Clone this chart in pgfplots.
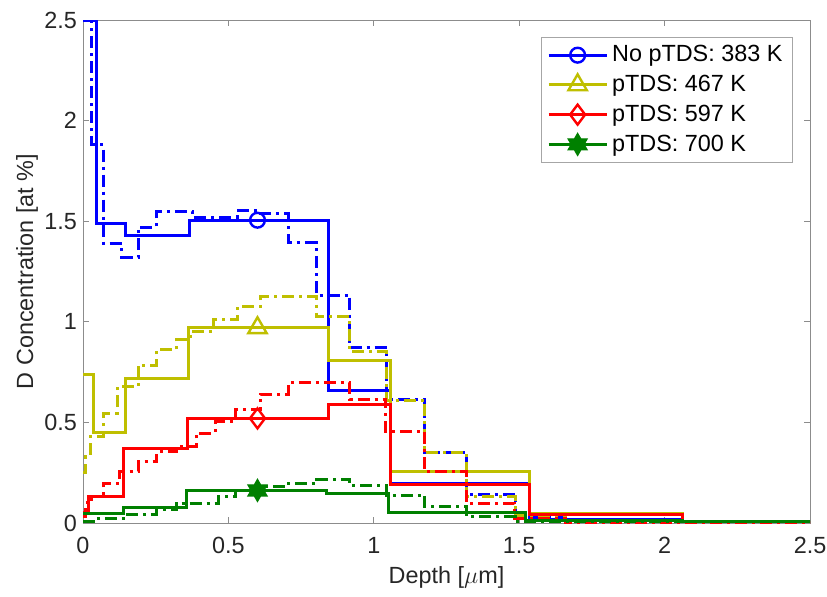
\documentclass[border=0pt]{standalone}
\usepackage{pgfplots}
\pgfplotsset{compat=1.18}
\usepackage{fontspec}
\setmainfont{Liberation Sans}

% filled six-pointed star
\pgfdeclareplotmark{hexagram}{%
  \pgfpathmoveto{\pgfpointpolar{90}{\pgfplotmarksize}}%
  \pgfpathlineto{\pgfpointpolar{120}{0.577\pgfplotmarksize}}%
  \pgfpathlineto{\pgfpointpolar{150}{\pgfplotmarksize}}%
  \pgfpathlineto{\pgfpointpolar{180}{0.577\pgfplotmarksize}}%
  \pgfpathlineto{\pgfpointpolar{210}{\pgfplotmarksize}}%
  \pgfpathlineto{\pgfpointpolar{240}{0.577\pgfplotmarksize}}%
  \pgfpathlineto{\pgfpointpolar{270}{\pgfplotmarksize}}%
  \pgfpathlineto{\pgfpointpolar{300}{0.577\pgfplotmarksize}}%
  \pgfpathlineto{\pgfpointpolar{330}{\pgfplotmarksize}}%
  \pgfpathlineto{\pgfpointpolar{0}{0.577\pgfplotmarksize}}%
  \pgfpathlineto{\pgfpointpolar{30}{\pgfplotmarksize}}%
  \pgfpathlineto{\pgfpointpolar{60}{0.577\pgfplotmarksize}}%
  \pgfpathclose
  \pgfusepathqfillstroke
}

\definecolor{mblue}{rgb}{0,0,1}
\definecolor{myel}{rgb}{0.75,0.75,0}
\definecolor{mred}{rgb}{1,0,0}
\definecolor{mgreen}{rgb}{0,0.5,0}

\begin{document}
\begin{tikzpicture}
\begin{axis}[
  scale only axis,
  width=363.5pt, height=251.5pt,
  xmin=0, xmax=2.5, ymin=0, ymax=2.5,
  xtick={0,0.5,...,2.5}, ytick={0,0.5,...,2.5},
  tick align=inside, tick pos=both,
  major tick length=3pt,
  axis line style={black!45, line width=0.5pt},
  tick style={black!45, line width=0.5pt},
  font=\fontsize{11.7}{14}\selectfont,
  ticklabel style={text=black!85},
  xticklabel style={yshift=-3.5pt, inner xsep=0pt},
  yticklabel style={xshift=0.5pt, inner ysep=0pt},
  label style={text=black!85},
  /pgf/number format/assume math mode=true,
  xlabel={Depth [$\mu$m]},
  ylabel={D Concentration [at \%]},
  xlabel style={at={(axis description cs:0.5,0)}, anchor=center, yshift=-27pt, inner sep=0pt},
  ylabel style={at={([xshift=-28pt]axis description cs:0,0.5)}, anchor=center, inner sep=0pt},
  legend cell align=left,
  legend style={at={(1,1)}, anchor=north east, xshift=-8.5pt, yshift=-8.5pt,
    draw=black!35, fill=white, line width=0.5pt,
    font=\fontsize{11.7}{14}\selectfont, row sep=1.2pt,
    inner xsep=3pt, inner ysep=2pt},
  legend image code/.code={%
    \draw[#1,mark repeat=2,mark phase=2] plot coordinates {(0pt,0pt) (14.5pt,0pt) (29pt,0pt)};},
  solidline/.style={const plot mark left, line width=1.5pt, mark repeat=100},
  dashline/.style={const plot mark left, line width=1.5pt,
    dash pattern=on 6pt off 2.5pt on 1.5pt off 2.5pt, forget plot},
]

% ---- no pTDS, 383 K ----
\addplot[dashline, mblue] coordinates {
 (0,2.5) (0.03,1.88) (0.07,1.39) (0.133,1.32) (0.19,1.47) (0.253,1.547)
 (0.378,1.52) (0.53,1.555) (0.61,1.54) (0.706,1.393) (0.803,1.133)
 (0.918,0.87) (1.045,0.615) (1.176,0.35) (1.32,0.14) (1.486,0.03)
 (1.66,0.01) (2.5,0.01)};
\addplot[solidline, mblue, mark=o, mark phase=5,
  mark options={solid, line width=1.2pt}, mark size=3.7pt] coordinates {
 (0,2.5) (0.045,1.49) (0.145,1.43) (0.365,1.505) (0.6,1.505) (0.843,0.66)
 (1.056,0.195) (1.537,0.015) (2.06,0.008) (2.5,0.008)};
\addlegendentry{No pTDS: 383 K}

% ---- pTDS 467 K ----
\addplot[dashline, myel] coordinates {
 (0,0.25) (0.01,0.33) (0.025,0.43) (0.07,0.546) (0.118,0.677) (0.19,0.785)
 (0.253,0.86) (0.322,0.91) (0.368,0.951) (0.448,1.009) (0.53,1.075)
 (0.61,1.124) (0.803,1.025) (0.918,0.851) (1.045,0.61) (1.176,0.348)
 (1.32,0.13) (1.486,0.035) (1.66,0.008) (2.5,0.008)};
\addplot[solidline, myel, mark=triangle, mark phase=5,
  mark options={solid, line width=1.2pt}, mark size=5.3pt] coordinates {
 (0,0.74) (0.035,0.45) (0.145,0.72) (0.362,0.97) (0.6,0.97) (0.843,0.81)
 (1.058,0.255) (1.537,0.045) (2.06,0.008) (2.5,0.008)};
\addlegendentry{pTDS: 467 K}

% ---- pTDS 597 K ----
\addplot[dashline, mred] coordinates {
 (0,0.03) (0.01,0.1) (0.03,0.13) (0.07,0.197) (0.127,0.255) (0.19,0.305)
 (0.253,0.354) (0.322,0.378) (0.39,0.447) (0.454,0.503) (0.523,0.562)
 (0.609,0.641) (0.706,0.697) (0.918,0.616) (1.04,0.454) (1.173,0.255)
 (1.32,0.099) (1.483,0.02) (1.66,0.005) (2.5,0.005)};
\addplot[solidline, mred, mark=diamond, mark phase=5,
  mark options={solid, line width=1.2pt}, mark size=5pt] coordinates {
 (0,0.05) (0.018,0.13) (0.139,0.371) (0.361,0.52) (0.6,0.52) (0.843,0.59)
 (1.056,0.19) (1.537,0.04) (2.06,0.008) (2.5,0.008)};
\addlegendentry{pTDS: 597 K}

% ---- pTDS 700 K ----
\addplot[dashline, mgreen] coordinates {
 (0,0.007) (0.047,0.023) (0.139,0.043) (0.253,0.065) (0.322,0.098)
 (0.465,0.131) (0.523,0.16) (0.609,0.18) (0.706,0.197) (0.803,0.215)
 (0.918,0.185) (1.045,0.139) (1.176,0.081) (1.32,0.031) (1.486,0.007)
 (2.5,0.005)};
\addplot[solidline, mgreen, mark=hexagram, mark phase=4,
  mark options={solid, line width=0.6pt, fill=mgreen}, mark size=5.5pt] coordinates {
 (0,0.048) (0.139,0.075) (0.356,0.162) (0.6,0.162) (0.838,0.148)
 (1.05,0.051) (1.52,0.012) (2.06,0.006) (2.5,0.006)};
\addlegendentry{pTDS: 700 K}

\end{axis}
% page frame around the axis box
\path ([shift={(-41.5pt,-36.5pt)}]current axis.south west)
  rectangle ([shift={(8.5pt,10pt)}]current axis.north east);
\end{tikzpicture}
\end{document}
